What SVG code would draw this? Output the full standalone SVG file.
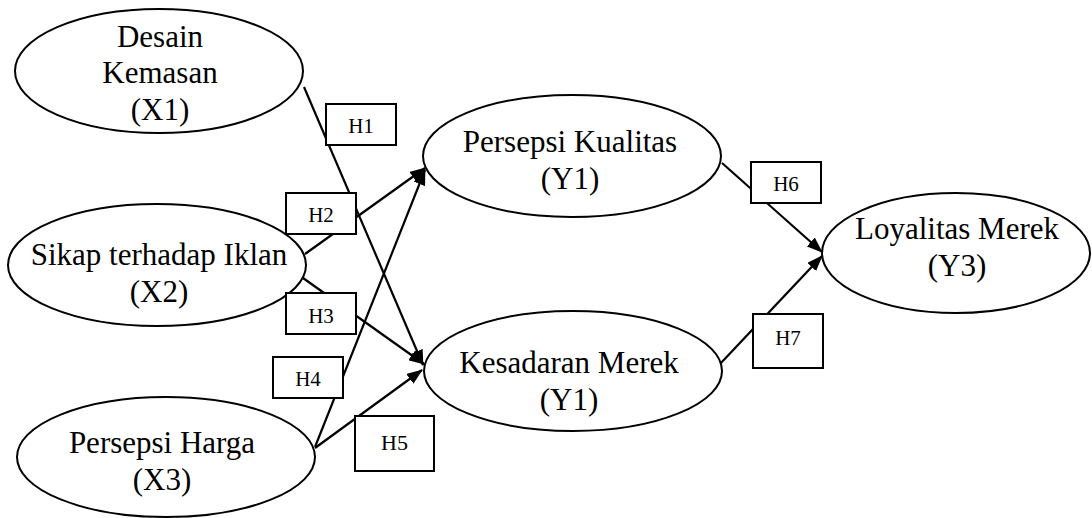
<svg xmlns="http://www.w3.org/2000/svg" width="1092" height="518" viewBox="0 0 1092 518">
  <style>
    .node { fill: #ffffff; stroke: #000000; stroke-width: 2; }
    .lbl { font-family: "Liberation Serif", "Times New Roman", serif; font-size: 31px; fill: #000000; text-anchor: middle; }
    .hbox { fill: #ffffff; stroke: #000000; stroke-width: 2; }
    .htxt { font-family: "Liberation Serif", "Times New Roman", serif; font-size: 21px; fill: #000000; text-anchor: middle; }
    .edge { stroke: #000000; stroke-width: 2.2; fill: none; marker-end: url(#arrow); }
  </style>
  <defs>
    <marker id="arrow" viewBox="0 0 16 12" refX="15" refY="6" markerWidth="16" markerHeight="12" markerUnits="userSpaceOnUse" orient="auto">
      <path d="M0,0 L16,6 L0,12 Z" fill="#000000"/>
    </marker>
  </defs>
  <rect width="1092" height="518" fill="#ffffff"/>

  <g id="connectors">
    <line class="edge" x1="304" y1="87" x2="423" y2="365"/>
    <line class="edge" x1="305" y1="254" x2="425" y2="168"/>
    <line class="edge" x1="303" y1="278" x2="424" y2="364"/>
    <line class="edge" x1="315" y1="447" x2="425" y2="170"/>
    <line class="edge" x1="315" y1="448" x2="422" y2="370"/>
    <line class="edge" x1="722" y1="163" x2="822" y2="252"/>
    <line class="edge" x1="720" y1="364" x2="822" y2="256"/>
  </g>

  <g id="X1">
    <ellipse class="node" cx="159" cy="71" rx="144" ry="62"/>
    <text class="lbl" x="160" y="47">Desain</text>
    <text class="lbl" x="160" y="83">Kemasan</text>
    <text class="lbl" x="160" y="120">(X1)</text>
  </g>
  <g id="X2">
    <ellipse class="node" cx="157" cy="265" rx="149" ry="61"/>
    <text class="lbl" x="159" y="265">Sikap terhadap Iklan</text>
    <text class="lbl" x="159" y="302">(X2)</text>
  </g>
  <g id="X3">
    <ellipse class="node" cx="166" cy="457" rx="149" ry="60"/>
    <text class="lbl" x="162" y="453">Persepsi Harga</text>
    <text class="lbl" x="162" y="490">(X3)</text>
  </g>
  <g id="Y1">
    <ellipse class="node" cx="572" cy="156" rx="149" ry="61"/>
    <text class="lbl" x="570" y="152">Persepsi Kualitas</text>
    <text class="lbl" x="570" y="189">(Y1)</text>
  </g>
  <g id="Y2">
    <ellipse class="node" cx="573" cy="371" rx="149" ry="60"/>
    <text class="lbl" x="569" y="373">Kesadaran Merek</text>
    <text class="lbl" x="569" y="410">(Y1)</text>
  </g>
  <g id="Y3">
    <ellipse class="node" cx="956" cy="253" rx="134" ry="60"/>
    <text class="lbl" x="957" y="239">Loyalitas Merek</text>
    <text class="lbl" x="957" y="276">(Y3)</text>
  </g>

  <g id="H1">
    <rect class="hbox" x="326" y="104" width="70" height="41"/>
    <text class="htxt" x="361" y="133">H1</text>
  </g>
  <g id="H2">
    <rect class="hbox" x="286" y="193" width="70" height="41"/>
    <text class="htxt" x="321" y="222">H2</text>
  </g>
  <g id="H3">
    <rect class="hbox" x="286" y="293" width="70" height="41"/>
    <text class="htxt" x="321" y="323">H3</text>
  </g>
  <g id="H4">
    <rect class="hbox" x="273" y="357" width="70" height="41"/>
    <text class="htxt" x="308" y="386">H4</text>
  </g>
  <g id="H5">
    <rect class="hbox" x="355" y="416" width="79" height="55"/>
    <text class="htxt" x="394.5" y="450" style="font-size:22px">H5</text>
  </g>
  <g id="H6">
    <rect class="hbox" x="751" y="162" width="70" height="41"/>
    <text class="htxt" x="786" y="191">H6</text>
  </g>
  <g id="H7">
    <rect class="hbox" x="753" y="314" width="70" height="54"/>
    <text class="htxt" x="788" y="345">H7</text>
  </g>
</svg>
